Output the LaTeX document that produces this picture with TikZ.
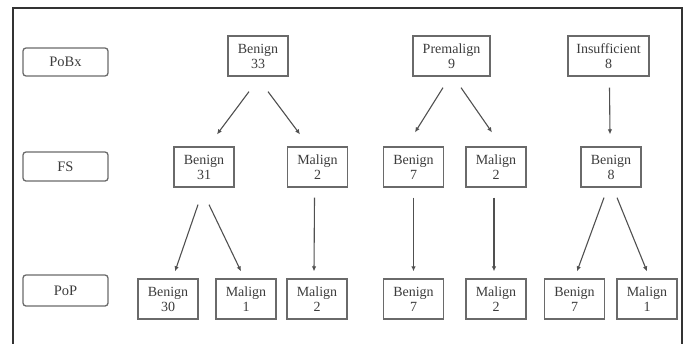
\documentclass[tikz,border=0pt]{standalone}
\usepackage{fontspec}
\setmainfont{Liberation Serif}
\usetikzlibrary{arrows.meta}

\definecolor{boxgray}{HTML}{6A6A6A}
\definecolor{txtgray}{HTML}{3C3C3C}
\definecolor{arrgray}{HTML}{505050}

\begin{document}
\begin{tikzpicture}[x=1pt,y=-1pt,
    font=\fontsize{14}{15}\selectfont,text=txtgray]

      \useasboundingbox (0,0) rectangle (687,343);
      \draw[line width=1.2pt,black!80] (13,8) rectangle (682,360);

      % row labels
      \begin{scope}[every node/.style={draw=boxgray,line width=1.3pt,rounded corners=3pt,
          minimum width=85pt,inner sep=0pt,font=\fontsize{14.5}{15}\selectfont}]
        \node[minimum height=28pt] (pobx) at (65.5,62)    {PoBx};
        \node[minimum height=29pt] (fs)   at (65.5,166.5) {FS};
        \node[minimum height=31pt] (pop)  at (65.5,290.5) {PoP};
      \end{scope}

      \begin{scope}[every node/.style={draw=boxgray,line width=1.3pt,align=center,
          minimum height=40pt,minimum width=60pt,inner sep=0pt}]
        % PoBx
        \node (b33) at (258,56)                      {Benign\\33};
        \node[minimum width=77pt] (p9) at (451.5,56) {Premalign\\9};
        \node[minimum width=81pt] (i8) at (608.5,56) {Insufficient\\8};
        % FS
        \node (b31) at (204,167)   {Benign\\31};
        \node (m2)  at (317.5,167) {Malign\\2};
        \node (b7)  at (413.5,167) {Benign\\7};
        \node (m2b) at (496,167)   {Malign\\2};
        \node (b8)  at (611,167)   {Benign\\8};
        % PoP
        \node (b30)  at (168,299)   {Benign\\30};
        \node (m1)   at (246,299)   {Malign\\1};
        \node (m2c)  at (317,299)   {Malign\\2};
        \node (b7b)  at (413.5,299) {Benign\\7};
        \node (m2d)  at (496,299)   {Malign\\2};
        \node (b7c)  at (574.5,299) {Benign\\7};
        \node (m1b)  at (647,299)   {Malign\\1};
      \end{scope}

      \begin{scope}[every edge/.style={draw=arrgray,line width=1.1pt,
          -{Latex[length=5pt,width=4.5pt]}}]
        \path ([xshift=-9pt,yshift=-15pt]b33.south) edge ([xshift=13pt,yshift=12pt]b31.north);
        \path ([xshift=10pt,yshift=-15pt]b33.south) edge ([xshift=-17.5pt,yshift=12pt]m2.north);
        \path ([xshift=-8.5pt,yshift=-11pt]p9.south) edge ([xshift=1.5pt,yshift=14pt]b7.north);
        \path ([xshift=9.5pt,yshift=-11pt]p9.south) edge ([xshift=-4pt,yshift=14pt]m2b.north);
        \path ([xshift=1pt,yshift=-11pt]i8.south) edge ([xshift=-1pt,yshift=12pt]b8.north);

        \path ([xshift=-6pt,yshift=-17pt]b31.south) edge ([xshift=7pt,yshift=7pt]b30.north);
        \path ([xshift=5pt,yshift=-17pt]b31.south) edge ([xshift=-5pt,yshift=7pt]m1.north);
        \path ([xshift=-3pt,yshift=-10pt]m2.south) edge ([xshift=-3pt,yshift=7pt]m2c.north);
        \path ([yshift=-10pt]b7.south) edge ([yshift=7pt]b7b.north);
        \path ([xshift=-2pt,yshift=-10pt]m2b.south) edge ([xshift=-2pt,yshift=7pt]m2d.north);
        \path ([xshift=-7pt,yshift=-10pt]b8.south) edge ([xshift=2.5pt,yshift=7pt]b7c.north);
        \path ([xshift=6pt,yshift=-10pt]b8.south) edge ([yshift=7pt]m1b.north);
      \end{scope}

    \end{tikzpicture}
\end{document}
